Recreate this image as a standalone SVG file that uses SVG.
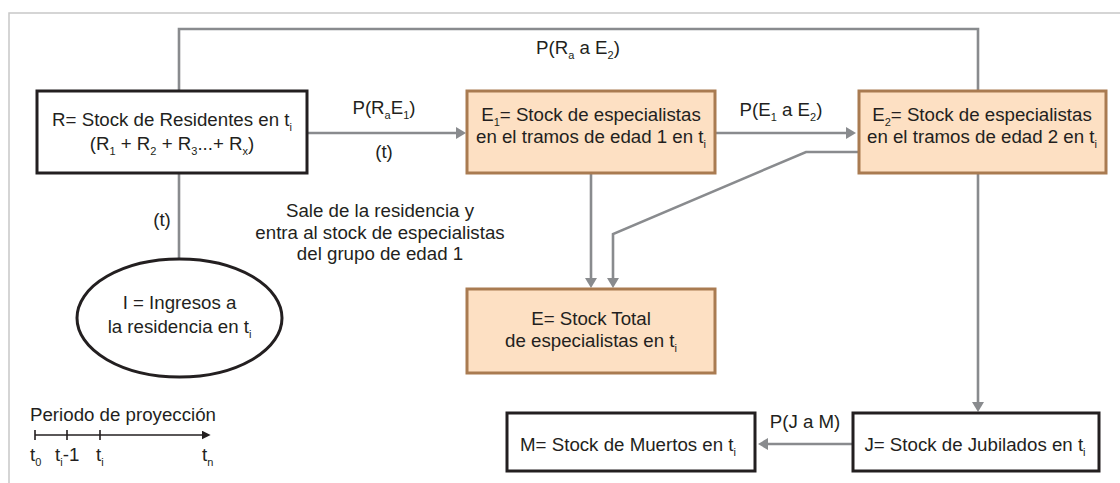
<svg xmlns="http://www.w3.org/2000/svg" width="1120" height="483" viewBox="0 0 1120 483">
<style>
text{font-family:"Liberation Sans",Arial,Helvetica,sans-serif;font-size:18.7px;fill:#231f20}
.c{text-anchor:middle}
.s{font-size:11px}
.bw{fill:#ffffff;stroke:#231f20;stroke-width:3}
.bo{fill:#fde0c3;stroke:#a97b51;stroke-width:3}
.cn{fill:none;stroke:#898b8e;stroke-width:2.6}
.tl{fill:none;stroke:#231f20;stroke-width:1.6}
</style>
<defs>
<marker id="ag" viewBox="0 0 10 12" markerWidth="10" markerHeight="12" refX="6" refY="6" orient="auto" markerUnits="userSpaceOnUse"><path d="M0,0 L10,6 L0,12 z" fill="#898b8e"/></marker>
<marker id="ab" viewBox="0 0 10 10" markerWidth="9" markerHeight="9" refX="6" refY="5" orient="auto" markerUnits="userSpaceOnUse"><path d="M0,0 L10,5 L0,10 z" fill="#231f20"/></marker>
</defs>
<rect x="0" y="0" width="1120" height="483" fill="#ffffff"/>
<path d="M9,483 V13 H1120" fill="none" stroke="#c8c8c8" stroke-width="1.5"/>

<g id="connectors">
<path class="cn" d="M179,91 V29 H978 V91"/>
<path class="cn" d="M307,133 H462" marker-end="url(#ag)"/>
<path class="cn" d="M715,133 H852" marker-end="url(#ag)"/>
<path class="cn" d="M591,173 V284" marker-end="url(#ag)"/>
<path class="cn" d="M859,152 H806 L613,234 V284" marker-end="url(#ag)"/>
<path class="cn" d="M978,173 V408" marker-end="url(#ag)"/>
<path class="cn" d="M179,173 V259"/>
<path class="cn" d="M853,444 H762" marker-end="url(#ag)"/>
<text class="c" x="578" y="54">P(R<tspan class="s" dy="5">a</tspan><tspan dy="-5"> a E</tspan><tspan class="s" dy="5">2</tspan><tspan dy="-5">)</tspan></text>
<text class="c" x="384" y="114">P(R<tspan class="s" dy="5">a</tspan><tspan dy="-5">E</tspan><tspan class="s" dy="5">1</tspan><tspan dy="-5">)</tspan></text>
<text class="c" x="384" y="158">(t)</text>
<text class="c" x="781" y="116">P(E<tspan class="s" dy="5">1</tspan><tspan dy="-5"> a E</tspan><tspan class="s" dy="5">2</tspan><tspan dy="-5">)</tspan></text>
<text class="c" x="162" y="226">(t)</text>
<text class="c" x="380" y="217">Sale de la residencia y</text>
<text class="c" x="380" y="239">entra al stock de especialistas</text>
<text class="c" x="380" y="260">del grupo de edad 1</text>
<text class="c" x="805" y="428">P(J a M)</text>
</g>

<g id="R">
<rect class="bw" x="37" y="91" width="270" height="82"/>
<text class="c" x="172" y="126">R= Stock de Residentes en t<tspan class="s" dy="5">i</tspan></text>
<text class="c" x="172" y="150">(R<tspan class="s" dy="5">1</tspan><tspan dy="-5"> + R</tspan><tspan class="s" dy="5">2</tspan><tspan dy="-5"> + R</tspan><tspan class="s" dy="5">3</tspan><tspan dy="-5">...+ R</tspan><tspan class="s" dy="5">x</tspan><tspan dy="-5">)</tspan></text>
</g>

<g id="E1">
<rect class="bo" x="467" y="91" width="248" height="82"/>
<text class="c" x="591" y="121">E<tspan class="s" dy="5">1</tspan><tspan dy="-5">= Stock de especialistas</tspan></text>
<text class="c" x="591" y="143">en el tramos de edad 1 en t<tspan class="s" dy="5">i</tspan></text>
</g>

<g id="E2">
<rect class="bo" x="859" y="91" width="247" height="82"/>
<text class="c" x="982" y="121">E<tspan class="s" dy="5">2</tspan><tspan dy="-5">= Stock de especialistas</tspan></text>
<text class="c" x="982" y="143">en el tramos de edad 2 en t<tspan class="s" dy="5">i</tspan></text>
</g>

<g id="I">
<ellipse cx="179.5" cy="318" rx="102.5" ry="59" fill="#ffffff" stroke="#231f20" stroke-width="3"/>
<text class="c" x="179.5" y="309">I = Ingresos a</text>
<text class="c" x="179.5" y="333">la residencia en t<tspan class="s" dy="5">i</tspan></text>
</g>

<g id="E">
<rect class="bo" x="467" y="289" width="248" height="84"/>
<text class="c" x="591" y="325">E= Stock Total</text>
<text class="c" x="591" y="347">de especialistas en t<tspan class="s" dy="5">i</tspan></text>
</g>

<g id="M">
<rect class="bw" x="507" y="413" width="248" height="58"/>
<text class="c" x="628" y="451">M= Stock de Muertos en t<tspan class="s" dy="5">i</tspan></text>
</g>

<g id="J">
<rect class="bw" x="853" y="413" width="246" height="58"/>
<text class="c" x="975" y="451">J= Stock de Jubilados en t<tspan class="s" dy="5">i</tspan></text>
</g>

<g id="timeline">
<text x="30" y="421">Periodo de proyección</text>
<path class="tl" d="M35,435 H207" marker-end="url(#ab)"/>
<path class="tl" d="M35,430 V440 M67,430 V440 M100,430 V440"/>
<text x="30" y="461">t<tspan class="s" dy="5">0</tspan></text>
<text x="55" y="461">t<tspan class="s" dy="5">i</tspan><tspan dy="-5">-1</tspan></text>
<text x="96" y="461">t<tspan class="s" dy="5">i</tspan></text>
<text x="202" y="461">t<tspan class="s" dy="5">n</tspan></text>
</g>
</svg>
